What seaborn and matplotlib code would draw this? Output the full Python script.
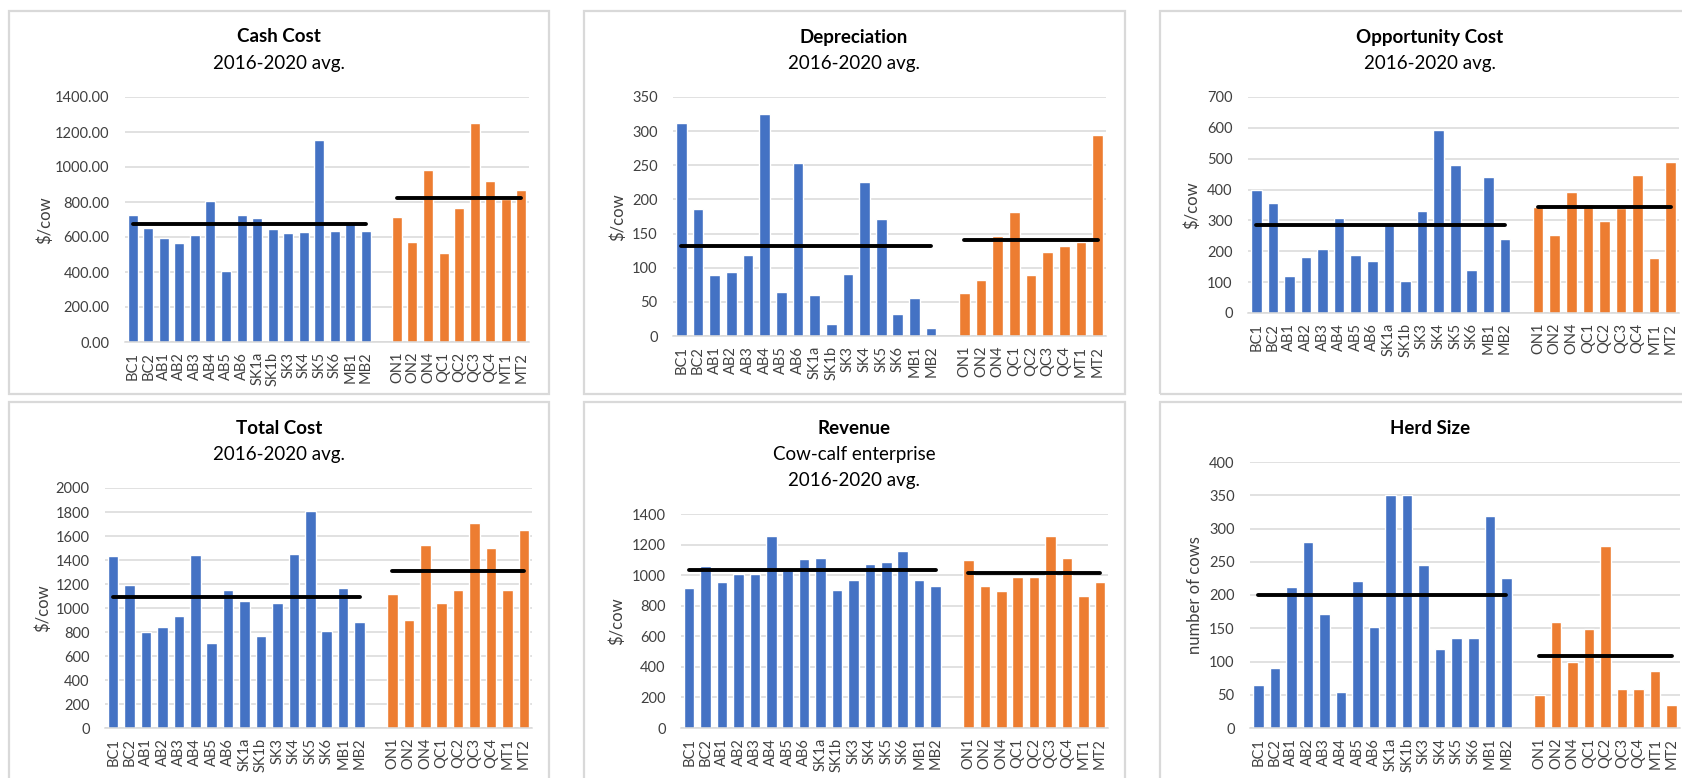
import pandas as pd
import matplotlib
matplotlib.use("Agg")
import matplotlib.pyplot as plt
from matplotlib.patches import Rectangle
import seaborn as sns

# Sites (west = blue, east = orange), one empty slot between the two groups
west_sites = ['BC1', 'BC2', 'AB1', 'AB2', 'AB3', 'AB4', 'AB5', 'AB6',
              'SK1a', 'SK1b', 'SK3', 'SK4', 'SK5', 'SK6', 'MB1', 'MB2']
east_sites = ['ON1', 'ON2', 'ON4', 'QC1', 'QC2', 'QC3', 'QC4', 'MT1', 'MT2']

cash_west = [724, 649, 592, 563, 609, 803, 408, 724, 711, 645, 621, 630, 1155, 634, 680, 632]
cash_east = [713, 569, 983, 506, 764, 1253, 919, 815, 868]
cash_avg = [676, 822]

dep_west = [312, 186, 89, 94, 118, 325, 65, 254, 60, 17, 91, 226, 171, 32, 56, 12]
dep_east = [63, 82, 147, 182, 89, 123, 132, 138, 295]
dep_avg = [132, 140]

opp_west = [400, 358, 121, 182, 208, 308, 189, 167, 285, 105, 332, 594, 479, 140, 440, 241]
opp_east = [345, 254, 393, 354, 299, 340, 448, 179, 490]
opp_avg = [285, 344]

total_west = [1436, 1192, 803, 842, 936, 1439, 706, 1147, 1061, 767, 1044, 1453, 1806, 806, 1169, 883]
total_east = [1119, 903, 1528, 1044, 1153, 1708, 1503, 1153, 1653]
total_avg = [1094, 1308]

rev_west = [914, 1058, 953, 1010, 1010, 1258, 1036, 1108, 1112, 905, 968, 1073, 1086, 1156, 968, 931]
rev_east = [1101, 931, 898, 990, 990, 1258, 1114, 866, 957]
rev_avg = [1036, 1014]

herd_west = [65, 90, 212, 280, 171, 54, 221, 152, 350, 350, 245, 119, 135, 135, 319, 225]
herd_east = [50, 159, 100, 149, 274, 59, 59, 85, 35]
herd_avg = [200, 108]

BLUE = '#4472C4'
ORANGE = '#ED7D31'
GRID = '#D9D9D9'
TXT = '#404040'

W, H = 1682, 778
sns.set_theme(style='white')
plt.rcParams['font.family'] = ['Lato', 'DejaVu Sans']

fig = plt.figure(figsize=(W / 100, H / 100), dpi=100)
fig.patch.set_facecolor('white')

order = west_sites + [''] + east_sites


def px_axes(l, t, r, b):
    return fig.add_axes([l / W, 1 - b / H, (r - l) / W, (b - t) / H])


def panel_box(l, t, r, b):
    fig.patches.append(Rectangle((l / W, 1 - b / H), (r - l) / W, (b - t) / H,
                                 transform=fig.transFigure, fill=False,
                                 edgecolor=GRID, linewidth=1.6, zorder=0))


def draw_panel(ax, west, east, avg, yticks, fmt='{:.0f}'):
    df = pd.DataFrame({
        'site': west_sites + east_sites,
        'value': west + east,
        'group': ['west'] * len(west) + ['east'] * len(east),
    })
    sns.barplot(data=df, x='site', y='value', hue='group', order=order,
                hue_order=['west', 'east'], palette={'west': BLUE, 'east': ORANGE},
                dodge=False, width=0.64, saturation=1, legend=False, ax=ax)
    # group averages
    ax.plot([0, len(west_sites) - 1], [avg[0], avg[0]], color='black', lw=2.8,
            solid_capstyle='round', zorder=5)
    ax.plot([len(west_sites) + 1, len(order) - 1], [avg[1], avg[1]], color='black', lw=2.8,
            solid_capstyle='round', zorder=5)
    ax.set_xlim(-0.5, len(order) - 0.5)
    ax.set_ylim(yticks[0], yticks[-1])
    ax.set_yticks(yticks)
    ax.set_yticklabels([fmt.format(v) for v in yticks])
    ax.yaxis.grid(True, color=GRID, lw=1.1)
    ax.set_axisbelow(True)
    for s in ['top', 'right', 'left']:
        ax.spines[s].set_visible(False)
    ax.spines['bottom'].set_color(GRID)
    ax.spines['bottom'].set_linewidth(1.1)
    ax.tick_params(axis='y', length=0, pad=11, labelsize=10.5, labelcolor=TXT)
    ax.tick_params(axis='x', length=0, pad=7, labelsize=10.5, labelcolor=TXT, rotation=90)
    ax.set_xlabel('')
    ax.set_ylabel('')


def titles(cx, lines):
    for i, (y, txt) in enumerate(lines):
        fig.text(cx / W, 1 - y / H, txt, ha='center', va='center', fontsize=13.5,
                 fontweight='bold' if i == 0 else 'normal', color='black')


def ylab(x, y, txt):
    fig.text(x / W, 1 - y / H, txt, ha='center', va='center', rotation=90,
             fontsize=12, color=TXT)


# panel frames
for l, r in [(9, 549), (584, 1125), (1160, 1700)]:
    panel_box(l, 11, r, 394)
    panel_box(l, 402, r, 785)

# top row
ax1 = px_axes(125, 97, 529, 342)
draw_panel(ax1, cash_west, cash_east, cash_avg, list(range(0, 1401, 200)), '{:.2f}')
titles(279, [(37, 'Cash Cost'), (63, '2016-2020 avg.')])
ylab(45, 220, '$/cow')

ax2 = px_axes(673, 97, 1106, 336)
draw_panel(ax2, dep_west, dep_east, dep_avg, list(range(0, 351, 50)))
titles(854, [(37, 'Depreciation'), (63, '2016-2020 avg.')])
ylab(618, 217, '$/cow')

ax3 = px_axes(1248, 97, 1679, 313)
draw_panel(ax3, opp_west, opp_east, opp_avg, list(range(0, 701, 100)))
titles(1430, [(37, 'Opportunity Cost'), (63, '2016-2020 avg.')])
ylab(1192, 205, '$/cow')

# bottom row
ax4 = px_axes(105, 488, 532, 728)
draw_panel(ax4, total_west, total_east, total_avg, list(range(0, 2001, 200)))
titles(279, [(428, 'Total Cost'), (455, '2016-2020 avg.')])
ylab(43, 608, '$/cow')

ax5 = px_axes(681, 514, 1108, 728)
draw_panel(ax5, rev_west, rev_east, rev_avg, list(range(0, 1401, 200)))
titles(854, [(428, 'Revenue'), (455, 'Cow-calf enterprise'), (481, '2016-2020 avg.')])
ylab(617, 621, '$/cow')

ax6 = px_axes(1250, 462, 1680, 728)
draw_panel(ax6, herd_west, herd_east, herd_avg, list(range(0, 401, 50)))
titles(1430, [(428, 'Herd Size')])
ylab(1195, 595, 'number of cows')

fig.savefig('out.png', dpi=100, facecolor='white')
